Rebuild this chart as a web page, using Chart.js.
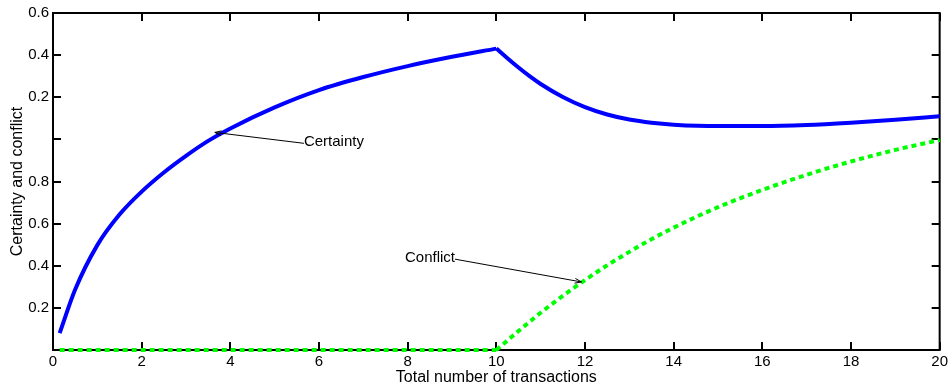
<!DOCTYPE html>
<html>
<head>
<meta charset="utf-8">
<script src="https://cdn.jsdelivr.net/npm/chart.js@4/dist/chart.umd.min.js"></script>
<style>
  html, body { margin: 0; padding: 0; background: #fff; }
  #wrap { width: 951px; height: 387px; }
</style>
</head>
<body>
<div id="wrap"><canvas id="c" width="951" height="387"></canvas></div>
<script>
// Certainty curve samples (transactions -> value).
// A null entry marks the kink at 10 so each side is smoothed on its own.
const certaintyX = [0.15, 0.5, 1, 1.5, 2, 2.5, 3, 3.5, 4, 5, 6, 7, 8, 9, 10,
                    10, 10,
                    10.25, 10.5, 10.75, 11, 11.5, 12, 12.5, 13, 13.5, 14, 15, 16, 17, 18, 19, 20];
const certaintyY = [0.08, 0.287, 0.498, 0.643, 0.752, 0.843, 0.922, 0.993, 1.052, 1.152, 1.234, 1.296, 1.348, 1.392, 1.431,
                    null, 1.431,
                    1.385, 1.341, 1.300, 1.263, 1.201, 1.153, 1.118, 1.094, 1.079, 1.070, 1.063, 1.063, 1.068, 1.079, 1.093, 1.11];

// Conflict curve samples (zero up to 10, then rising)
const conflictX = [0.15, 10, 10, 10, 10.25, 10.5, 10.75, 11, 11.5, 12, 12.5, 13, 13.5, 14, 15, 16, 17, 18, 19, 20];
const conflictY = [0, 0, null, 0, 0.045, 0.09, 0.134, 0.177, 0.257, 0.332, 0.402, 0.466, 0.526, 0.581, 0.678, 0.760, 0.832, 0.895, 0.950, 0.997];

// Axis ticks
const xTickValues = [0, 2, 4, 6, 8, 10, 12, 14, 16, 18, 20];
const xTickLabels = ['0', '2', '4', '6', '8', '10', '12', '14', '16', '18', '20'];
const yTickValues = [0, 0.2, 0.4, 0.6, 0.8, 1.0, 1.2, 1.4, 1.6];
const yTickLabels = ['', '0.2', '0.4', '0.6', '0.8', '', '0.2', '0.4', '0.6'];

// Text annotations with arrows: label anchor and arrow tip in data units
const notes = [
  { text: 'Certainty', textX: 5.66, textY: 0.986, tipX: 3.65, tipY: 1.033 },
  { text: 'Conflict',  textX: 7.94, textY: 0.436, tipX: 11.92, tipY: 0.323 }
];

const FONT = '"Liberation Sans", Arial, Helvetica, sans-serif';

const pts = (xs, ys) => xs.map((x, i) => ({ x: x, y: ys[i] }));

// Box frame with inward tick marks, MATLAB style
const framePlugin = {
  id: 'frame',
  beforeDatasetsDraw(chart) {
    const { ctx, chartArea: a, scales } = chart;
    const xs = scales.x, ys = scales.y;
    const tl = 8;
    ctx.save();
    ctx.strokeStyle = '#000';
    ctx.lineWidth = 2;
    ctx.beginPath();
    ctx.rect(a.left, a.top, a.right - a.left, a.bottom - a.top);
    ctx.stroke();
    ctx.beginPath();
    xTickValues.forEach(v => {
      const px = Math.round(xs.getPixelForValue(v));
      ctx.moveTo(px, a.bottom); ctx.lineTo(px, a.bottom - tl);
      ctx.moveTo(px, a.top); ctx.lineTo(px, a.top + tl);
    });
    yTickValues.forEach(v => {
      const py = Math.round(ys.getPixelForValue(v));
      ctx.moveTo(a.left, py); ctx.lineTo(a.left + tl, py);
      ctx.moveTo(a.right, py); ctx.lineTo(a.right - tl, py);
    });
    ctx.stroke();
    ctx.restore();
  },
  afterDatasetsDraw(chart) {
    const { ctx, scales } = chart;
    const xs = scales.x, ys = scales.y;
    ctx.save();
    ctx.font = '15px ' + FONT;
    ctx.fillStyle = '#000';
    ctx.strokeStyle = '#000';
    ctx.lineWidth = 1;
    notes.forEach(n => {
      const tx = xs.getPixelForValue(n.textX), ty = ys.getPixelForValue(n.textY);
      const px = xs.getPixelForValue(n.tipX), py = ys.getPixelForValue(n.tipY);
      const w = ctx.measureText(n.text).width;
      ctx.textBaseline = 'middle';
      ctx.textAlign = 'left';
      ctx.fillText(n.text, tx, ty);
      // line starts at the label edge nearest to the tip
      const sx = px < tx ? tx : tx + w;
      const sy = ty + 1;
      ctx.beginPath();
      ctx.moveTo(sx, sy);
      ctx.lineTo(px, py);
      const ang = Math.atan2(py - sy, px - sx);
      const hl = 7, ha = 0.35;
      ctx.moveTo(px, py);
      ctx.lineTo(px - hl * Math.cos(ang - ha), py - hl * Math.sin(ang - ha));
      ctx.moveTo(px, py);
      ctx.lineTo(px - hl * Math.cos(ang + ha), py - hl * Math.sin(ang + ha));
      ctx.stroke();
    });
    ctx.restore();
  }
};

new Chart(document.getElementById('c'), {
  type: 'line',
  data: {
    datasets: [
      {
        label: 'Certainty',
        data: pts(certaintyX, certaintyY),
        borderColor: '#0000ff',
        borderWidth: 4,
        pointRadius: 0,
        cubicInterpolationMode: 'monotone',
        spanGaps: false,
        fill: false,
        clip: false
      },
      {
        label: 'Conflict',
        data: pts(conflictX, conflictY),
        borderColor: '#00ff00',
        borderWidth: 4,
        borderDash: [5, 4],
        borderCapStyle: 'butt',
        pointRadius: 0,
        cubicInterpolationMode: 'monotone',
        spanGaps: false,
        fill: false,
        clip: false
      }
    ]
  },
  options: {
    responsive: false,
    animation: false,
    devicePixelRatio: 1,
    layout: { padding: { top: 12, right: 11, left: 0, bottom: 0 } },
    plugins: { legend: { display: false }, tooltip: { enabled: false } },
    scales: {
      x: {
        type: 'linear',
        min: 0, max: 20,
        grid: { display: false, drawTicks: false },
        border: { display: false },
        afterBuildTicks: s => { s.ticks = xTickValues.map(v => ({ value: v })); },
        afterFit: s => { s.height = 37; },
        ticks: {
          padding: 3,
          maxRotation: 0,
          autoSkip: false,
          color: '#000',
          font: { family: FONT, size: 15 },
          callback: (v, i) => xTickLabels[i]
        },
        title: {
          display: true,
          text: 'Total number of transactions',
          color: '#000',
          font: { family: FONT, size: 16 },
          padding: { top: 0, bottom: 0 }
        }
      },
      y: {
        type: 'linear',
        min: 0, max: 1.6,
        grid: { display: false, drawTicks: false },
        border: { display: false },
        afterBuildTicks: s => { s.ticks = yTickValues.map(v => ({ value: v })); },
        afterFit: s => { s.width = 53; },
        ticks: {
          padding: 4,
          autoSkip: false,
          color: '#000',
          font: { family: FONT, size: 15 },
          callback: (v, i) => yTickLabels[i]
        },
        title: {
          display: true,
          text: 'Certainty and conflict',
          color: '#000',
          font: { family: FONT, size: 16 },
          padding: { top: 8, bottom: 0 }
        }
      }
    }
  },
  plugins: [framePlugin]
});
</script>
</body>
</html>
